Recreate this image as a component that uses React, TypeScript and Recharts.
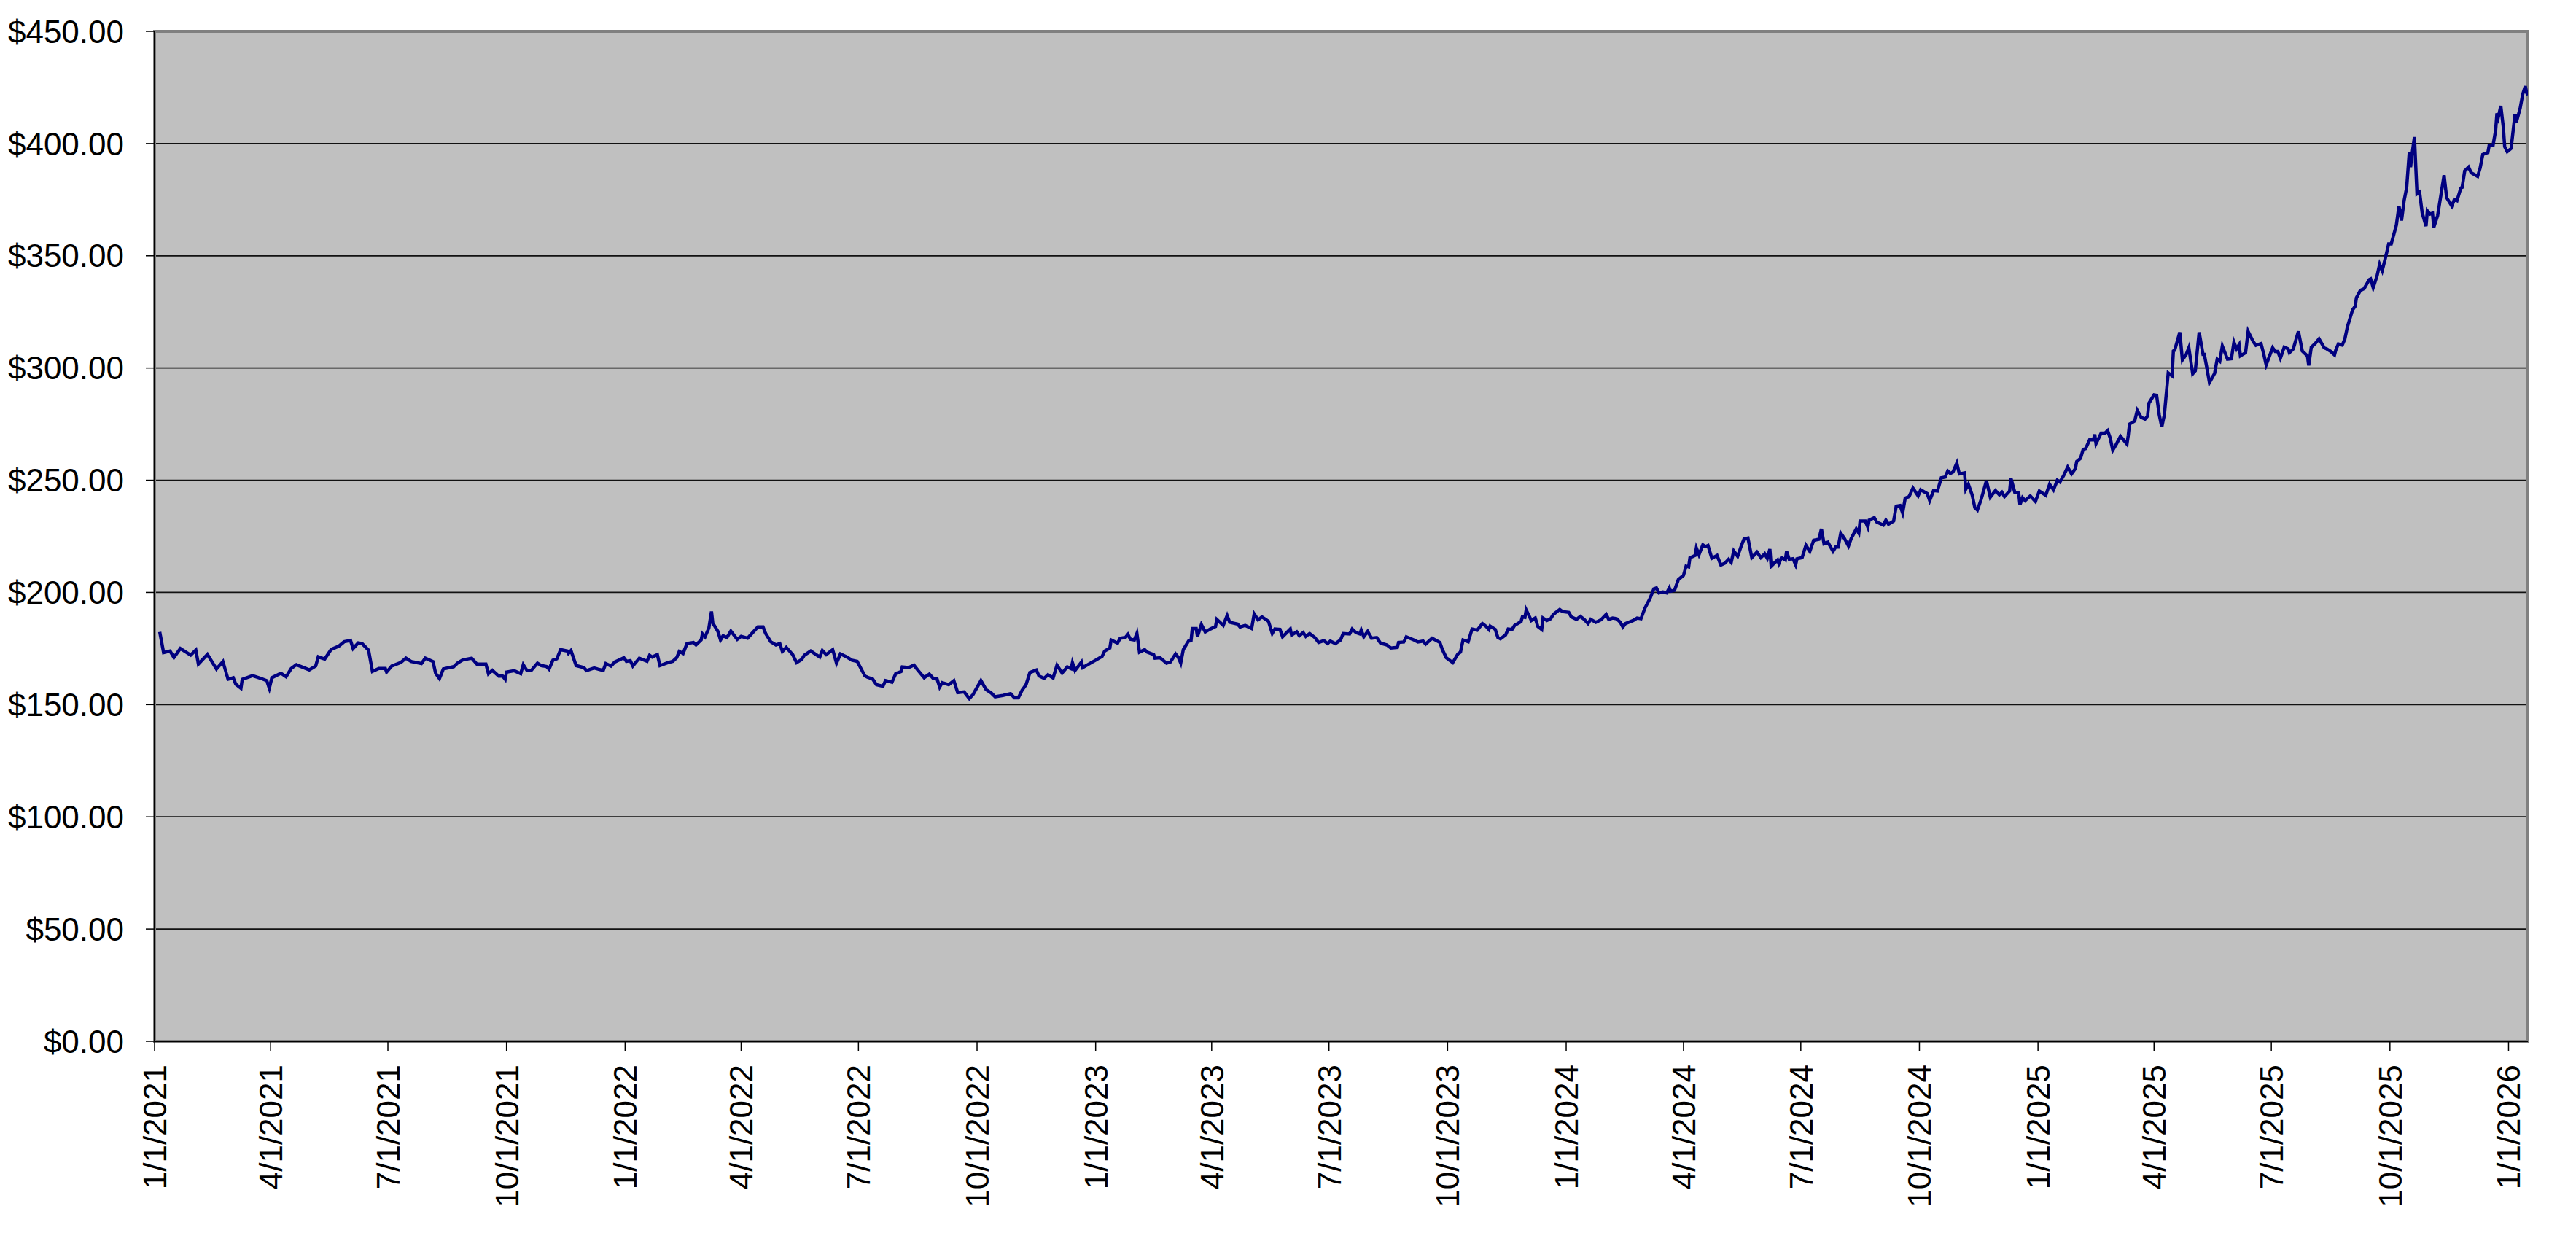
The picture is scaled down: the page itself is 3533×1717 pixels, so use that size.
import React from "react";
import { LineChart, Line, XAxis, YAxis, CartesianGrid, ReferenceArea } from "recharts";

// Day offsets from 1/1/2021 of the sampled closing prices
const tradingDays = [
  4,7,12,15,20,28,32,34,41,48,53,57,61,63,67,68,76,82,87,89,91,98,102,106,110,120,125,127,132,137,143,147,152,154,158,161,166,169,174,179,180,184,191,195,199,207,210,216,218,221,224,232,235,239,246,250,257,259,262,267,270,272,273,279,284,286,289,292,297,300,304,
  306,309,312,315,320,321,323,327,333,335,341,344,348,350,354,357,364,366,369,371,376,382,384,386,390,392,398,402,405,407,410,413,418,420,424,425,427,430,432,433,437,439,441,444,447,452,455,460,463,468,472,474,478,482,485,487,490,495,498,502,504,509,516,518,521,526,529,532,537,541,545,551,553,557,560,565,567,572,575,579,580,585,589,592,597,601,604,
  607,609,611,616,620,623,628,632,635,641,645,649,652,658,664,667,670,673,676,679,684,686,690,693,697,700,704,708,711,712,714,719,720,726,730,735,737,741,742,747,749,753,755,757,760,762,764,768,770,775,776,780,785,788,792,794,796,798,802,804,805,808,809,812,815,819,823,824,829,832,834,840,842,846,851,853,856,859,864,867,869,873,875,881,882,886,888,891,893,896,900,903,907,910,912,
  916,920,922,927,929,932,935,936,938,941,944,948,951,956,959,964,965,969,971,977,980,984,986,991,997,999,1002,1007,1011,1013,1015,1019,1022,1026,1030,1033,1035,1036,1040,1042,1044,1048,1050,1053,1055,1060,1061,1063,1064,1068,1071,1073,1076,1077,1080,1083,1085,1090,1092,1097,1099,1103,1106,1109,1112,1114,1118,1120,1122,1126,1128,1131,1134,1137,1139,1141,1147,1150,1153,1156,1160,1163,1165,1167,1170,1173,1175,1176,1179,1182,1186,1188,1190,1191,1195,1196,1198,1201,1203,1205,1208,1212,1215,
  1218,1221,1223,1225,1228,1231,1233,1236,1239,1243,1246,1249,1251,1253,1254,1259,1260,1262,1265,1266,1268,1271,1273,1274,1278,1281,1284,1287,1291,1293,1295,1298,1302,1304,1306,1308,1311,1314,1316,1320,1322,1323,1327,1329,1330,1334,1336,1341,1343,1345,1349,1351,1354,1356,1358,1361,1364,1368,1370,1375,1377,1380,1383,1386,1389,1391,1393,1395,1398,1400,1404,1405,1407,1410,1412,1414,1417,1421,1424,1428,1431,1433,1435,1439,1440,1443,1446,1447,1449,1451,1455,1459,1462,1467,1470,1473,1476,1478,1481,1484,1487,1490,1491,1494,1496,1498,1501,1504,1505,1506,1510,1513,1515,1517,1519,1522,
  1525,1530,1531,1532,1536,1538,1541,1544,1546,1547,1551,1553,1555,1557,1559,1562,1565,1566,1567,1571,1573,1576,1578,1581,1583,1586,1589,1590,1592,1594,1598,1600,1602,1604,1608,1611,1613,1615,1617,1618,1622,1624,1628,1630,1634,1636,1638,1643,1645,1647,1649,1652,1655,1656,1659,1663,1666,1670,1671,1673,1676,1679,1683,1685,1688,
  1691,1692,1694,1697,1699,1701,1705,1707,1708,1711,1714,1718,1719,1721,1724,1726,1728,1731,1733,1735,1739,1741,1743,1745,1747,1749,1750,1751,1753,1755,1757,1759,1762,1763,1765,1767,1768,1771,1774,1776,1778,1782,1784,1786,1789,1790,1792,1795,1797,1802,1804,1806,1810,1811,1814,1816,1817,1818,1820,1822,1823,1825,1828,1831,1832,1835,1837,1839,1840,1841,
];

const closePrices = [
  182.4,173.2,173.9,171.0,175.0,172.1,174.3,168.1,172.4,165.9,169.2,161.3,162.0,159.1,157.3,161.3,162.9,161.8,160.7,157.3,162.0,164.0,162.4,166.1,167.8,165.5,167.2,171.3,170.3,174.6,176.1,178.0,178.6,175.0,177.5,177.2,174.3,164.8,166.1,166.1,164.5,167.2,168.8,170.7,169.2,168.3,170.7,169.2,164.0,161.6,165.9,166.9,168.5,169.9,170.7,168.1,168.1,163.8,165.3,162.7,162.7,161.3,164.5,165.1,163.8,167.8,165.1,165.1,168.5,167.4,167.0,
  165.8,169.8,170.4,174.5,173.9,172.8,174.1,167.4,166.5,165.2,166.3,165.8,165.2,168.3,167.2,169.0,170.9,169.3,169.6,167.2,170.7,169.3,172.0,171.2,172.3,167.4,168.7,169.3,170.9,173.7,172.8,177.2,177.7,176.6,178.8,181.5,180.2,184.2,191.5,186.4,182.6,178.8,180.7,179.9,182.8,179.1,180.4,179.6,181.5,184.6,184.6,181.7,178.0,176.6,177.2,173.7,175.5,172.3,168.7,170.1,172.0,173.9,171.2,174.1,172.3,174.5,168.5,172.6,171.2,169.8,169.3,162.8,162.2,161.4,158.9,158.2,160.7,160.0,163.9,164.7,166.8,166.5,167.6,165.4,162.0,163.6,161.7,
  161.4,157.8,159.8,158.9,160.7,155.4,155.7,152.7,154.6,160.7,156.7,155.2,153.5,154.1,154.9,153.0,153.0,156.5,158.9,164.3,165.4,162.8,161.7,163.3,161.9,167.6,164.1,166.8,166.0,168.7,165.2,169.0,166.5,168.5,169.8,171.5,173.9,175.2,178.8,177.4,179.6,179.9,181.3,179.1,178.8,181.7,173.4,174.5,173.4,172.3,170.7,170.9,168.5,169.0,172.6,171.2,168.5,174.5,178.3,178.5,183.9,183.9,180.4,185.7,182.4,183.7,184.8,188.0,185.3,189.7,186.7,185.9,184.6,185.3,183.9,190.4,187.8,189.1,187.2,181.7,183.7,183.5,180.2,183.7,181.0,182.4,180.7,182.1,180.4,181.7,179.9,177.7,178.5,177.2,178.3,
  177.2,178.8,181.7,181.5,183.7,182.1,181.5,183.2,180.2,182.6,179.6,179.9,177.4,176.6,175.2,175.5,177.7,177.9,180.2,178.8,177.9,178.3,177.0,179.6,177.7,174.5,170.9,168.7,172.6,173.4,178.8,178.0,183.7,183.2,186.1,184.8,183.5,185.0,183.5,179.9,179.3,181.0,183.7,183.5,185.3,187.0,189.1,188.9,192.2,187.5,188.6,184.8,183.5,188.6,187.5,188.3,190.2,192.4,191.5,191.1,189.1,188.0,189.3,188.0,186.1,188.0,186.7,187.2,187.8,190.2,188.0,188.6,188.3,186.7,184.6,186.1,187.5,188.6,188.3,192.9,197.3,201.6,202.0,199.8,200.2,199.8,202.0,200.5,200.9,205.7,207.6,211.7,211.4,215.4,216.5,219.8,216.8,221.2,220.4,220.9,215.2,216.5,212.2,
  213.0,214.8,213.4,218.5,216.1,221.0,223.9,224.2,215.5,218.0,215.5,217.2,215.2,219.3,211.7,214.5,212.8,215.5,214.5,218.3,214.8,215.0,212.3,215.0,215.5,221.0,218.3,223.2,223.7,228.3,221.7,222.4,218.3,220.2,220.2,226.4,223.9,220.7,223.9,228.3,226.4,231.8,231.8,229.1,232.2,233.3,231.3,230.0,232.2,230.4,231.8,238.4,238.7,235.4,242.0,242.7,246.5,243.0,245.7,244.1,240.9,245.4,245.2,251.1,251.4,254.1,253.0,253.6,257.6,252.8,253.3,246.0,248.2,243.3,237.8,236.7,241.6,249.8,242.4,245.4,243.5,244.6,242.7,245.2,250.9,244.6,244.3,239.1,242.2,240.9,243.0,240.5,245.2,243.3,248.2,245.7,250.0,249.2,252.2,255.8,252.8,255.2,258.3,259.8,263.7,264.1,268.0,268.0,270.4,266.3,271.0,271.0,272.1,268.8,263.4,266.3,
  269.6,266.1,269.9,275.0,276.4,281.1,278.0,277.2,278.6,284.3,288.0,287.8,279.3,273.7,279.1,297.8,296.5,307.6,307.9,315.9,303.6,306.1,309.0,297.4,298.7,315.9,306.1,306.1,300.0,293.5,297.6,303.9,303.0,309.8,303.9,304.1,311.5,308.5,310.4,305.4,306.8,316.3,311.7,310.1,310.9,306.5,301.4,309.0,307.4,307.4,304.3,309.3,308.5,306.8,308.5,316.3,307.6,305.4,301.1,309.3,310.9,313.0,309.0,308.5,307.4,
  305.8,308.0,310.7,310.2,312.9,318.3,325.9,327.5,331.3,334.5,335.4,339.4,339.7,335.8,341.0,346.2,343.4,350.2,355.3,355.3,363.7,372.2,365.7,374.6,380.5,396.0,389.5,394.6,402.9,377.6,378.4,369.2,363.2,370.0,368.6,369.0,362.7,367.9,378.7,385.9,375.9,372.2,375.1,374.6,380.2,380.5,387.8,389.5,387.0,385.4,389.2,395.1,396.0,399.2,399.2,406.0,413.5,411.6,416.8,407.0,398.6,396.4,397.8,413.0,409.4,415.7,422.0,425.6,422.7,421.6,
];

const startDate = "1/1/2021";
const xTickLabels = [
  "1/1/2021","4/1/2021","7/1/2021","10/1/2021",
  "1/1/2022","4/1/2022","7/1/2022","10/1/2022",
  "1/1/2023","4/1/2023","7/1/2023","10/1/2023",
  "1/1/2024","4/1/2024","7/1/2024","10/1/2024",
  "1/1/2025","4/1/2025","7/1/2025","10/1/2025",
  "1/1/2026",
];
const yTicks = [0, 50, 100, 150, 200, 250, 300, 350, 400, 450];
const axisEndDate = "1/16/2026";

const toUtc = (s: string) => {
  const [m, d, y] = s.split("/").map(Number);
  return Date.UTC(y, m - 1, d);
};
const dayOf = (s: string) => Math.round((toUtc(s) - toUtc(startDate)) / 86400000);

const xTickDays = xTickLabels.map(dayOf);
const labelByDay: Record<number, string> = {};
xTickLabels.forEach((l, i) => (labelByDay[xTickDays[i]] = l));
const xMax = dayOf(axisEndDate);

const data = tradingDays.map((d, i) => ({ day: d, price: closePrices[i] }));

const FONT = "'Liberation Sans', Arial, Helvetica, sans-serif";

const XTick = (props: any) => {
  const { x, y, payload } = props;
  return (
    <g transform={`translate(${x},${y})`}>
      <text
        transform="rotate(-90)"
        textAnchor="end"
        dy="0.36em"
        fontSize={44}
        fontFamily={FONT}
        fill="#000"
      >
        {labelByDay[payload.value] ?? ""}
      </text>
    </g>
  );
};

export default function App() {
  return (
    <div style={{ position: "absolute", left: 0, top: 0, width: 3533, height: 1717, background: "#fff" }}>
      <LineChart
        width={3533}
        height={1717}
        data={data}
        margin={{ top: 43, right: 66, bottom: 0, left: 0 }}
      >
        <CartesianGrid
          vertical={false}
          horizontal={true}
          fill="#C0C0C0"
          fillOpacity={1}
          stroke="#111"
          strokeWidth={1.8}
        />
        <ReferenceArea
          x1={0}
          x2={xMax}
          y1={0}
          y2={450}
          fill="none"
          stroke="#808080"
          strokeWidth={4}
          ifOverflow="visible"
        />
        <XAxis
          dataKey="day"
          type="number"
          domain={[0, xMax]}
          ticks={xTickDays}
          interval={0}
          allowDataOverflow
          height={289}
          tickSize={14}
          tickMargin={18}
          axisLine={{ stroke: "#000", strokeWidth: 2 }}
          tickLine={{ stroke: "#000", strokeWidth: 1.5 }}
          tick={<XTick />}
        />
        <YAxis
          type="number"
          domain={[0, 450]}
          ticks={yTicks}
          interval={0}
          width={212}
          tickSize={12}
          tickMargin={30}
          axisLine={{ stroke: "#000", strokeWidth: 2 }}
          tickLine={{ stroke: "#000", strokeWidth: 1.5 }}
          tick={{ fontSize: 44, fontFamily: FONT, fill: "#000" }}
          tickFormatter={(v: number) => `$${v.toFixed(2)}`}
        />
        <Line
          type="linear"
          dataKey="price"
          stroke="#000080"
          strokeWidth={4.5}
          dot={false}
          activeDot={false}
          isAnimationActive={false}
        />
      </LineChart>
    </div>
  );
}
